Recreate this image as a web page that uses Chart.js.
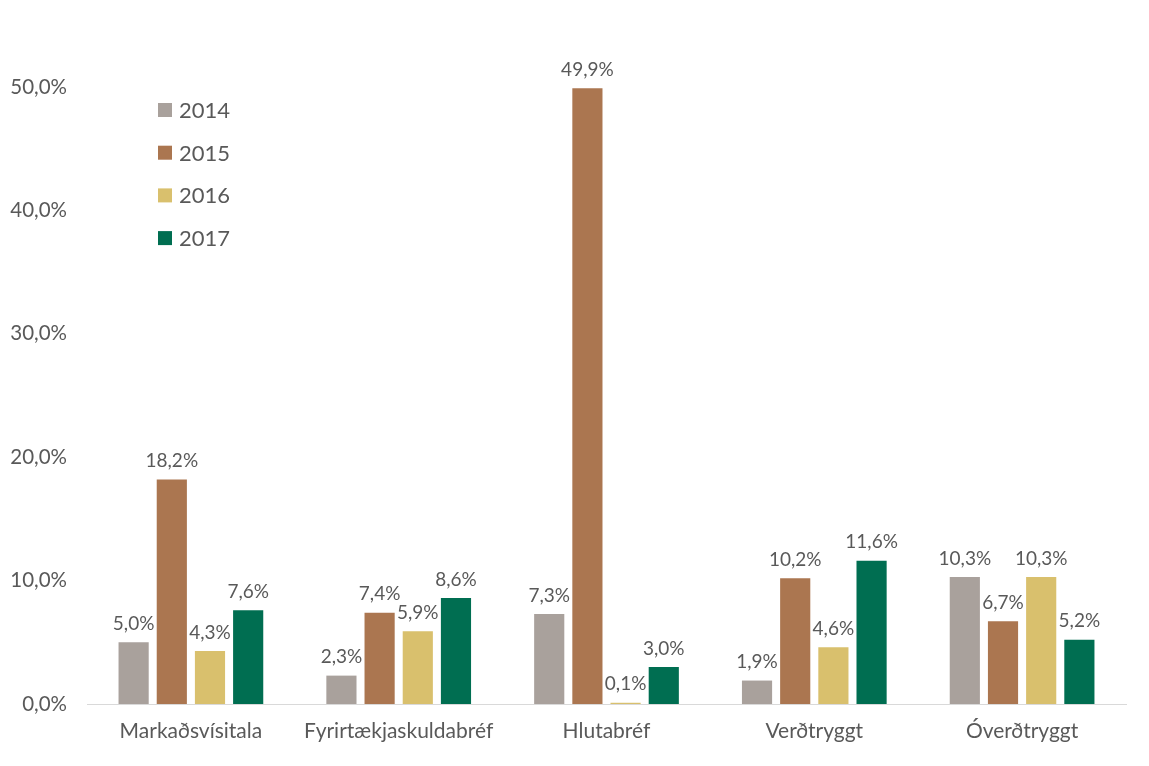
<!DOCTYPE html>
<html>
<head>
<meta charset="utf-8">
<script src="https://cdn.jsdelivr.net/npm/chart.js@4.4.1/dist/chart.umd.min.js"></script>
<style>
  html, body { margin: 0; padding: 0; background: #fff; }
  #wrap { width: 1149px; height: 766px; }
</style>
</head>
<body>
<div id="wrap"><canvas id="chart"></canvas></div>
<script>
const categories = ['Markaðsvísitala', 'Fyrirtækjaskuldabréf', 'Hlutabréf', 'Verðtryggt', 'Óverðtryggt'];
const years = ['2014', '2015', '2016', '2017'];
const values2014 = [5.0, 2.3, 7.3, 1.9, 10.3];
const values2015 = [18.2, 7.4, 49.9, 10.2, 6.7];
const values2016 = [4.3, 5.9, 0.1, 4.6, 10.3];
const values2017 = [7.6, 8.6, 3.0, 11.6, 5.2];
const colors = ['#A9A19C', '#AB7650', '#D9C06D', '#006E51'];

const FONT = 'Lato, "Open Sans", sans-serif';
const TEXT = '#595959';

function fmt(v) {
    return v.toFixed(1).replace('.', ',') + '%';
}

// value labels above each bar
const barLabels = {
    id: 'barLabels',
    afterDatasetsDraw(chart) {
        const ctx = chart.ctx;
        ctx.save();
        ctx.font = '19px ' + FONT;
        ctx.fillStyle = TEXT;
        ctx.textAlign = 'center';
        ctx.textBaseline = 'bottom';
        chart.data.datasets.forEach((ds, i) => {
            chart.getDatasetMeta(i).data.forEach((bar, j) => {
                ctx.fillText(fmt(ds.data[j]), bar.x, bar.y - 9);
            });
        });
        ctx.restore();
    }
};

// legend stacked inside the plot, top left
const innerLegend = {
    id: 'innerLegend',
    afterDraw(chart) {
        const ctx = chart.ctx;
        const x0 = chart.chartArea.left + 71;
        const y0 = chart.chartArea.top + 23;
        ctx.save();
        ctx.font = '22px ' + FONT;
        ctx.textBaseline = 'middle';
        chart.data.datasets.forEach((ds, i) => {
            const y = y0 + i * 42.7;
            ctx.fillStyle = ds.backgroundColor;
            ctx.fillRect(x0, y - 7, 14, 14);
            ctx.fillStyle = TEXT;
            ctx.fillText(ds.label, x0 + 21, y + 1);
        });
        ctx.restore();
    }
};

const seriesValues = [values2014, values2015, values2016, values2017];

new Chart(document.getElementById('chart'), {
    type: 'bar',
    data: {
        labels: categories,
        datasets: years.map((y, i) => ({
            label: y,
            data: seriesValues[i],
            backgroundColor: colors[i],
            categoryPercentage: 0.735,
            barPercentage: 0.79
        }))
    },
    options: {
        responsive: true,
        maintainAspectRatio: false,
        animation: false,
        layout: { padding: { top: 87, right: 23, left: 0, bottom: 0 } },
        plugins: { legend: { display: false }, tooltip: { enabled: false } },
        scales: {
            x: {
                grid: { display: false, drawTicks: false },
                border: { display: true, color: '#D9D9D9', width: 1 },
                ticks: { color: TEXT, font: { family: FONT, size: 21 }, padding: 15, maxRotation: 0 },
                afterFit(scale) { scale.height = 62; }
            },
            y: {
                min: 0,
                max: 50,
                grid: { display: false, drawTicks: false },
                border: { display: false },
                ticks: {
                    stepSize: 10,
                    color: TEXT,
                    font: { family: FONT, size: 20.5 },
                    padding: 20,
                    callback: v => fmt(v)
                },
                afterFit(scale) { scale.width = 87; }
            }
        }
    },
    plugins: [barLabels, innerLegend]
});
</script>
</body>
</html>
